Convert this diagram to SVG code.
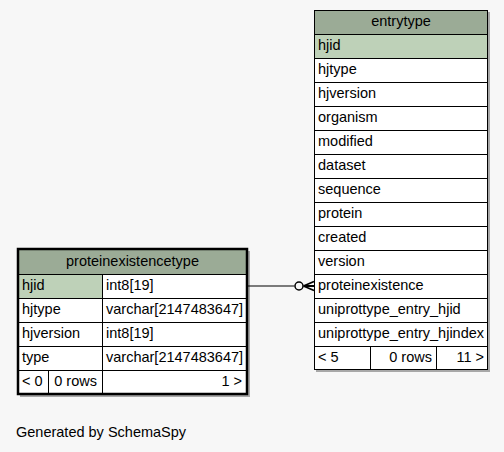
<svg xmlns="http://www.w3.org/2000/svg" width="504" height="452" viewBox="0 0 504 452">
<style>
.t{font-family:"Liberation Sans",Arial,sans-serif;font-size:14.5px;fill:#000}
.m{text-anchor:middle}
.r{text-anchor:end}
.hd{fill:#9bab96}
.pk{fill:#bed1b8}
.cell{fill:#ffffff}
.ln{stroke:#000;stroke-width:1;fill:none}
.sh{fill:#a8a8a8}
</style>
<rect x="0" y="0" width="504" height="452" fill="#f7f7f7"/>

<g id="entrytype">
<rect class="sh" x="316" y="12" width="174" height="360"/>
<rect class="cell" x="314" y="10" width="174" height="360"/>
<rect class="hd" x="314" y="10" width="174" height="24"/>
<rect class="pk" x="314" y="34" width="174" height="24"/>
<g class="ln">
<rect x="314.5" y="10.5" width="173" height="359"/>
<path d="M314 34.5H488M314 58.5H488M314 82.5H488M314 106.5H488M314 130.5H488M314 154.5H488M314 178.5H488M314 202.5H488M314 226.5H488M314 250.5H488M314 274.5H488M314 298.5H488M314 322.5H488M314 346.5H488M370.5 346V370M436.5 346V370"/>
</g>
<text class="t m" x="401" y="26">entrytype</text>
<text class="t" x="318" y="50">hjid</text>
<text class="t" x="318" y="74">hjtype</text>
<text class="t" x="318" y="98">hjversion</text>
<text class="t" x="318" y="122">organism</text>
<text class="t" x="318" y="146">modified</text>
<text class="t" x="318" y="170">dataset</text>
<text class="t" x="318" y="194">sequence</text>
<text class="t" x="318" y="218">protein</text>
<text class="t" x="318" y="242">created</text>
<text class="t" x="318" y="266">version</text>
<text class="t" x="318" y="290">proteinexistence</text>
<text class="t" x="318" y="314">uniprottype_entry_hjid</text>
<text class="t" x="318" y="338">uniprottype_entry_hjindex</text>
<text class="t" x="318" y="362">&lt; 5</text>
<text class="t r" x="432" y="362">0 rows</text>
<text class="t r" x="484" y="362">11 &gt;</text>
</g>

<g id="proteinexistencetype">
<rect class="sh" x="20" y="251" width="230" height="146"/>
<rect class="cell" x="18" y="249" width="229" height="145"/>
<rect class="hd" x="18" y="249" width="229" height="25"/>
<rect class="pk" x="18" y="274" width="84" height="24"/>
<g class="ln">
<path d="M18 274.5H247M18 298.5H247M18 322.5H247M18 346.5H247M18 370.5H247M102.5 274V394M48.5 370V394"/>
</g>
<rect x="18" y="249" width="229" height="145" fill="none" stroke="#000" stroke-width="2.5"/>
<text class="t m" x="132.5" y="266">proteinexistencetype</text>
<text class="t" x="22" y="290">hjid</text>
<text class="t" x="106" y="290">int8[19]</text>
<text class="t" x="22" y="314">hjtype</text>
<text class="t" x="106" y="314">varchar[2147483647]</text>
<text class="t" x="22" y="338">hjversion</text>
<text class="t" x="106" y="338">int8[19]</text>
<text class="t" x="22" y="362">type</text>
<text class="t" x="106" y="362">varchar[2147483647]</text>
<text class="t" x="22" y="386">&lt; 0</text>
<text class="t r" x="97" y="386">0 rows</text>
<text class="t r" x="242" y="386">1 &gt;</text>
</g>

<g id="connectors">
<path d="M248 286H294.5" stroke="#000" stroke-width="1.2" fill="none"/>
<circle cx="299" cy="286" r="4" fill="#f7f7f7" stroke="#000" stroke-width="1.5"/>
<path d="M303.5 286L314 281.5M303.5 286H314M303.5 286L314 290.5" stroke="#000" stroke-width="1.8" fill="none"/>
</g>

<text class="t" x="16" y="437">Generated by SchemaSpy</text>
</svg>
